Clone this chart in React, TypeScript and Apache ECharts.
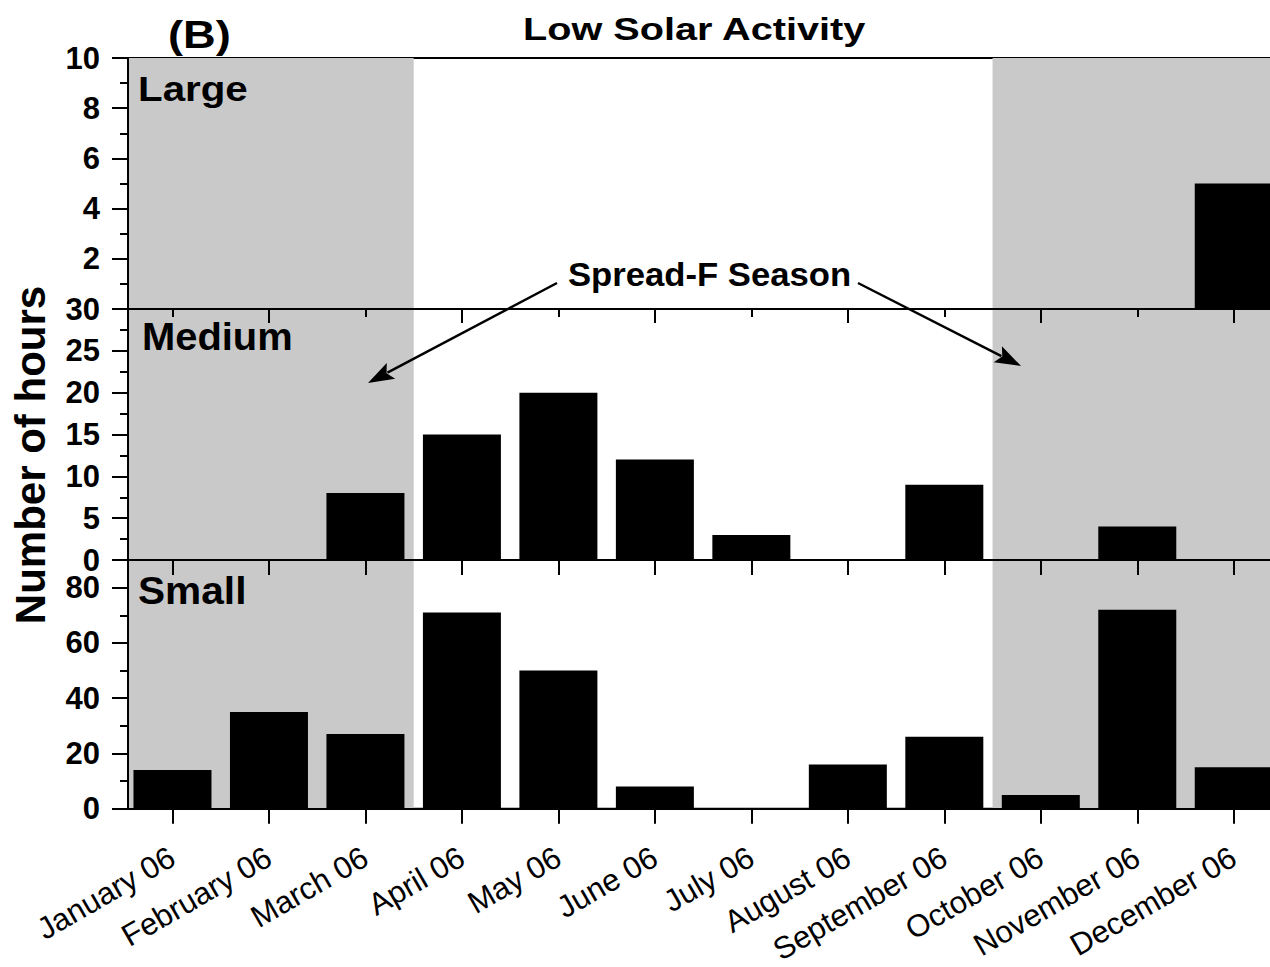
import React, { useEffect, useRef } from 'react';
import * as echarts from 'echarts';

const months = ['January 06', 'February 06', 'March 06', 'April 06', 'May 06', 'June 06', 'July 06', 'August 06', 'September 06', 'October 06', 'November 06', 'December 06'];
const largeHours = [0, 0, 0, 0, 0, 0, 0, 0, 0, 0, 0, 5];
const mediumHours = [0, 0, 8, 15, 20, 12, 3, 0, 9, 0, 4, 0];
const smallHours = [14, 35, 27, 71, 50, 8, 0, 16, 26, 5, 72, 15];
const panelNames = ['Large', 'Medium', 'Small'];
const panelMax = [10, 30, 90];
const panelInterval = [2, 5, 20];
const chartTitle = 'Low Solar Activity';
const panelTag = '(B)';
const yName = 'Number of hours';
const seasonLabel = 'Spread-F Season';

const FONT = '"Liberation Sans", Arial, Helvetica, sans-serif';
const X_MIN = 0.539;
const X_MAX = 12.5;
const monthPos = months.map((_, i) => i + 1);
const seasonRanges = [[X_MIN, 3.5], [9.5, X_MAX]];

const GRID_LEFT = 128;
const GRID_W = 1154;
const GRID_TOPS = [58, 309, 560];
const GRID_H = 251;

function arrow(sx: number, sy: number, tx: number, ty: number) {
  const dx = tx - sx, dy = ty - sy;
  const len = Math.sqrt(dx * dx + dy * dy);
  const ux = dx / len, uy = dy / len;
  const L = 26, W = 9;
  const bx = tx - ux * L, by = ty - uy * L;
  return [
    { type: 'line', z: 100, shape: { x1: sx, y1: sy, x2: bx + ux * 4, y2: by + uy * 4 }, style: { stroke: '#000', lineWidth: 2.5 } },
    {
      type: 'polygon', z: 100,
      shape: { points: [[tx, ty], [bx - uy * W, by + ux * W], [bx + ux * 5, by + uy * 5], [bx + uy * W, by - ux * W]] },
      style: { fill: '#000' },
    },
  ];
}

function txt(text: string, x: number, y: number, size: number, scaleX = 1) {
  return {
    type: 'text', x, y, scaleX, z: 100,
    style: { text, x: 0, y: 0, fontSize: size, fontWeight: 'bold', fontFamily: FONT, fill: '#000', align: 'left', verticalAlign: 'middle' },
  };
}

export default function App() {
  const ref = useRef<HTMLDivElement>(null);
  useEffect(() => {
    if (!ref.current) return;
    const chart = echarts.init(ref.current, undefined, { renderer: 'svg' });
    const lineStyle = { color: '#000', width: 2 };
    const datasets = [largeHours, mediumHours, smallHours];

    const grid = GRID_TOPS.map((top) => ({
      left: GRID_LEFT, top, width: GRID_W, height: GRID_H,
      show: true, borderColor: '#000', borderWidth: 2, backgroundColor: 'transparent',
    }));

    const xAxis: any[] = [0, 1, 2].map((g) => ({
      type: 'value', gridIndex: g, position: 'bottom', min: X_MIN, max: X_MAX, z: 10,
      axisLine: { show: true, onZero: false, lineStyle },
      axisTick: { show: true, inside: false, customValues: monthPos, length: g === 0 ? 8 : 15, lineStyle },
      splitLine: { show: false },
      axisLabel: g === 2
        ? {
          show: true, customValues: monthPos, rotate: 30, margin: 46,
          formatter: (v: number) => months[Math.round(v) - 1] || '',
          fontSize: 31, fontFamily: FONT, color: '#000',
        }
        : { show: false },
    }));
    // longer ticks at every second month under the top panel
    xAxis.push({
      type: 'value', gridIndex: 0, position: 'bottom', min: X_MIN, max: X_MAX, z: 10,
      axisLine: { show: false, onZero: false },
      axisTick: { show: true, inside: false, customValues: monthPos.filter((m) => m % 2 === 0), length: 14, lineStyle },
      axisLabel: { show: false }, splitLine: { show: false },
    });

    const yAxis: any[] = [0, 1, 2].map((g) => ({
      type: 'value', gridIndex: g, position: 'left', min: 0, max: panelMax[g], interval: panelInterval[g], z: 10,
      axisLine: { show: true, onZero: false, lineStyle },
      axisTick: { show: true, length: 16, lineStyle },
      minorTick: { show: g !== 2, splitNumber: 2, length: 8, lineStyle },
      splitLine: { show: false }, minorSplitLine: { show: false },
      axisLabel: {
        margin: 28, fontSize: 31, fontWeight: 'bold', fontFamily: FONT, color: '#000', lineHeight: 24,
        formatter: (v: number) => {
          if (g === 0 && v === 0) return '';
          if (g === 2 && v > 80) return '';
          return String(v);
        },
      },
    }));
    // minor ticks for the bottom panel
    yAxis.push({
      type: 'value', gridIndex: 2, position: 'left', min: 0, max: 90, interval: 10, z: 10,
      axisLine: { show: false, onZero: false },
      axisTick: { show: true, length: 8, lineStyle },
      axisLabel: { show: false }, splitLine: { show: false },
    });

    const series = datasets.map((vals, g) => ({
      type: 'bar', xAxisIndex: g, yAxisIndex: g, barWidth: 78,
      itemStyle: { color: '#000' },
      data: vals.map((v, i) => [monthPos[i], v]),
      markArea: {
        silent: true,
        itemStyle: { color: '#c9c9c9' },
        data: seasonRanges.map(([a, b]) => [{ xAxis: a }, { xAxis: b }]),
      },
    }));

    const graphic: any[] = [
      txt(chartTitle, 523, 30, 31, 1.28),
      txt(panelTag, 168, 35, 39, 1.16),
      txt(panelNames[0], 138, 88, 36, 1.12),
      txt(panelNames[1], 142, 337, 38, 1.05),
      txt(panelNames[2], 138, 590, 38, 1.07),
      txt(seasonLabel, 568, 274, 34, 1.02),
      {
        type: 'text', x: 30, y: 455, rotation: Math.PI / 2, z: 100,
        style: { text: yName, x: 0, y: 0, fontSize: 42, fontWeight: 'bold', fontFamily: FONT, fill: '#000', align: 'center', verticalAlign: 'middle' },
      },
      ...arrow(557, 283, 368, 383),
      ...arrow(858, 283, 1021, 366),
    ];

    chart.setOption({ animation: false, grid, xAxis, yAxis, series, graphic });
    return () => chart.dispose();
  }, []);
  return (
    <div style={{ position: 'absolute', left: 0, top: 0, width: 1270, height: 967, overflow: 'hidden', background: '#fff' }}>
      <div ref={ref} style={{ width: 1300, height: 967 }} />
    </div>
  );
}
